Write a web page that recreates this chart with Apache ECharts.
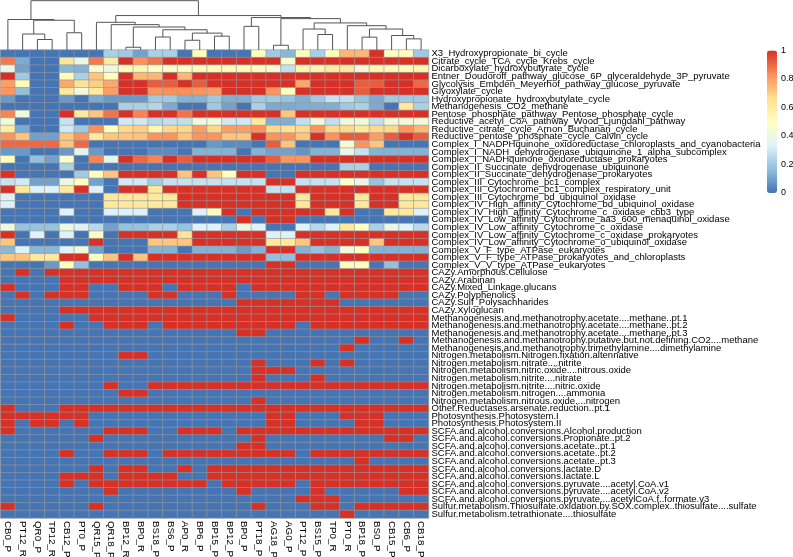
<!DOCTYPE html>
<html><head><meta charset="utf-8">
<style>html,body{margin:0;padding:0;background:#fff}#c{width:793px;height:557px}</style>
<script src="https://cdn.jsdelivr.net/npm/echarts@6/dist/echarts.min.js"></script>
</head><body><div id="c"></div>
<script>
const sampleLabels = ["CB0_P","PT12_R","QR0_P","TP12_R","CB12_P","PT0_P","QR15_P","QR18_P","BP12_R","BP0_R","BS18_P","BS6_P","AP0_R","BP6_P","BP15_P","BP12_P","BP0_P","PT18_P","AG18_P","AG0_P","PT12_P","BS15_P","TP0_R","PT0_R","BP18_P","BS0_P","CB15_P","CB6_P","CB18_P"];
const pathwayLabels = ["X3_Hydroxypropionate_bi_cycle","Citrate_cycle_TCA_cycle_Krebs_cycle","Dicarboxylate_hydroxybutyrate_cycle","Entner_Doudoroff_pathway_glucose_6P_glyceraldehyde_3P_pyruvate","Glycolysis_Embden_Meyerhof_pathway_glucose_pyruvate","Glyoxylate_cycle","Hydroxypropionate_hydroxybutylate_cycle","Methanogenesis_CO2_methane","Pentose_phosphate_pathway_Pentose_phosphate_cycle","Reductive_acetyl_CoA_pathway_Wood_Ljungdahl_pathway","Reductive_citrate_cycle_Arnon_Buchanan_cycle","Reductive_pentose_phosphate_cycle_Calvin_cycle","Complex_I_NADPHquinone_oxidoreductase_chloroplasts_and_cyanobacteria","Complex_I_NADH_dehydrogenase_ubiquinone_1_alpha_subcomplex","Complex_I_NADHquinone_oxidoreductase_prokaryotes","Complex_II_Succinate_dehydrogenase_ubiquinone","Complex_II_Succinate_dehydrogenase_prokaryotes","Complex_III_Cytochrome_bc1_complex","Complex_III_Cytochrome_bc1_complex_respiratory_unit","Complex_III_Cytochrome_bd_ubiquinol_oxidase","Complex_IV_High_affinity_Cytochrome_bd_ubiquinol_oxidase","Complex_IV_High_affinity_Cytochrome_c_oxidase_cbb3_type","Complex_IV_Low_affinity_Cytochrome_aa3_600_menaquinol_oxidase","Complex_IV_Low_affinity_Cytochrome_c_oxidase","Complex_IV_Low_affinity_Cytochrome_c_oxidase_prokaryotes","Complex_IV_Low_affinity_Cytochrome_o_ubiquinol_oxidase","Complex_V_F_type_ATPase_eukaryotes","Complex_V_F_type_ATPase_prokaryotes_and_chloroplasts","Complex_V_V_type_ATPase_eukaryotes","CAZy.Amorphous.Cellulose","CAZy.Arabinan","CAZy.Mixed_Linkage.glucans","CAZy.Polyphenolics","CAZy.Sulf_Polysachharides","CAZy.Xyloglucan","Methanogenesis.and.methanotrophy.acetate....methane..pt.1","Methanogenesis.and.methanotrophy.acetate....methane..pt.2","Methanogenesis.and.methanotrophy.acetate....methane..pt.3","Methanogenesis.and.methanotrophy.putative.but.not.defining.CO2....methane","Methanogenesis.and.methanotrophy.trimethylamine....dimethylamine","Nitrogen.metabolism.Nitrogen.fixation.altennative","Nitrogen.metabolism.nitrate....nitrite","Nitrogen.metabolism.nitric.oxide....nitrous.oxide","Nitrogen.metabolism.nitrite....nitrate","Nitrogen.metabolism.nitrite....nitric.oxide","Nitrogen.metabolism.nitrogen....ammonia","Nitrogen.metabolism.nitrous.oxide....nitrogen","Other.Reductases.arsenate.reduction..pt.1","Photosynthesis.Photosystem.I","Photosynthesis.Photosystem.II","SCFA.and.alcohol.conversions.Alcohol.production","SCFA.and.alcohol.conversions.Propionate..pt.2","SCFA.and.alcohol.conversions.acetate..pt.1","SCFA.and.alcohol.conversions.acetate..pt.2","SCFA.and.alcohol.conversions.acetate..pt.3","SCFA.and.alcohol.conversions.lactate.D","SCFA.and.alcohol.conversions.lactate.L","SCFA.and.alcohol.conversions.pyruvate....acetyl.CoA.v1","SCFA.and.alcohol.conversions.pyruvate....acetyl.CoA.v2","SCFA.and.alcohol.conversions.pyruvate....acetylCoA.f..formate.v3","Sulfur.metabolism.Thiosulfate.oxidation.by.SOX.complex..thiosulfate....sulfate","Sulfur.metabolism.tetrathionate....thiosulfate"];

// Graded rows (pathways 1-29): one value per sample
const gradedRows = [
[0,0,0,0,0,0,0,.22,.2,.1,.22,.22,0,.5,0,0,0,.5,.2,.15,.5,.22,.5,.75,.75,1,.5,.5,.2],
[.87,.12,0,0,.63,.4,.87,.6,1,.83,.88,1,1,1,1,1,1,1,1,.47,1,1,1,1,1,1,1,1,1],
[.38,.1,0,0,.15,.14,.47,.4,.52,.55,.5,.47,.48,.52,.52,.52,.52,.5,.45,.27,.55,.55,.6,.62,.42,.55,.52,.52,.55],
[1,.2,0,0,.52,.22,.72,.5,1,.75,.75,1,.75,1,1,1,1,1,1,1,1,1,1,1,1,1,1,1,1],
[.8,.52,0,0,.78,.65,.7,.78,1,1,.92,.92,1,.92,1,1,1,1,1,1,.78,1,1,1,.92,.92,1,1,.9],
[.82,.17,0,0,.62,.42,.62,.8,1,1,.82,.83,.83,.82,.8,1,1,1,.82,.5,1,1,1,1,.92,1,1,1,1],
[.08,0,0,0,.08,0,.12,.08,.08,.08,.2,.2,.14,.14,.2,.13,.13,.2,.2,.18,.13,.2,.28,.27,.18,.12,.2,.2,.2],
[0,0,0,0,0,0,0,0,.22,.22,.24,.12,0,0,.2,.1,0,.22,.12,.12,.13,.13,.13,.2,.22,.12,0,.62,.22],
[.85,.42,0,0,1,.62,.72,.88,1,.85,1,1,.88,1,1,1,1,1,1,.72,1,1,1,1,1,1,1,1,1],
[.42,0,0,0,.28,0,0,0,.3,.3,.25,.27,.27,.4,.42,.3,.3,.62,.13,.13,.27,.42,.27,.42,.42,.27,.42,.42,.42],
[.6,.12,0,0,.3,.2,.83,.5,.68,.7,.55,.68,.68,.8,.68,.8,.8,.83,.68,.65,.68,.82,.68,.68,.62,.68,.68,.82,.75],
[.82,.72,.1,.1,.72,.82,.62,.72,.72,.72,.82,.82,.72,.82,.82,.72,.72,1,.82,.82,.72,1,.82,.92,.92,.8,.92,1,.92],
[.9,.9,.9,.9,.72,.9,0,0,0,0,0,0,0,0,.08,.05,.05,0,.92,.72,0,0,0,.45,.82,.72,0,0,0],
[.08,.08,0,0,.08,.35,.08,0,0,0,.05,.05,0,.14,.14,.14,0,.14,.1,.1,.07,.14,.14,.38,.28,.14,.14,.14,.14],
[.5,0,.17,.1,.48,0,.85,.35,1,.9,.85,1,.92,1,1,1,1,1,.92,.82,.82,1,1,1,1,1,1,1,1],
[0,0,0,0,.22,0,0,0,0,0,0,0,0,0,0,0,0,0,0,0,0,0,0,.22,.22,0,0,0,0],
[1,0,0,0,0,.2,.5,.72,1,1,1,1,.72,1,.72,.5,1,1,0,0,1,1,1,1,1,1,1,1,1],
[.28,.3,.1,.1,.4,.5,.1,0,.3,.3,.2,.28,.28,.28,.28,.28,.28,.28,1,1,.28,.28,.28,.48,.38,.18,.28,.28,.28],
[1,.62,.33,.33,.62,1,.33,0,1,1,.62,1,1,1,1,1,1,1,.28,.28,1,1,1,1,1,1,1,1,1],
[.33,0,0,0,0,0,0,.62,.62,.62,.62,.62,1,1,1,1,1,1,1,1,.62,1,1,1,.62,1,1,.62,.62],
[.33,0,0,0,0,0,0,.62,.62,.62,.62,.62,1,1,1,1,1,1,1,1,.62,1,1,1,.62,1,1,.62,.62],
[0,0,0,0,.33,0,0,.33,.33,.33,0,0,0,.33,.5,1,0,1,1,1,1,1,.62,1,0,0,.62,.62,.33],
[0,0,0,0,0,0,0,0,0,0,0,0,0,0,0,0,1,0,1,1,0,0,0,0,0,0,0,0,0],
[.42,.18,.18,.18,.4,.33,.25,.1,.18,.18,.22,.22,.18,.33,.33,.22,.4,.33,0,0,.33,.25,.33,.62,.5,.22,.38,.33,.25],
[1,0,.33,0,.33,0,.5,0,1,1,1,1,.65,1,1,1,1,1,.33,.33,1,1,1,1,1,1,1,1,1],
[.72,0,0,0,0,0,1,0,0,0,.72,.72,.72,1,1,1,1,1,.62,.62,.72,1,1,1,1,.72,1,1,1],
[.15,.33,.15,.15,.33,.42,.1,0,0,0,.14,.14,0,.14,.14,.14,.08,.14,1,1,.14,.18,.14,.42,.5,.14,.14,.14,.14],
[.72,.72,.62,.62,1,1,.5,.72,1,.72,1,1,1,1,1,1,1,1,.17,.17,1,1,1,1,1,1,1,1,1],
[0,0,0,.08,.5,.17,0,0,0,0,0,0,0,0,0,0,0,0,1,1,0,0,0,.5,.5,0,.17,0,0]
];

// Present/absent rows (pathways 30-62): 1-based positions of the red cells; [a,b] is a run
const presentCells = [
[2,[4,29]],
[[5,29]],
[1,5,6,9,10,11,[13,16],[18,29]],
[2,4,5,6,11,12,16,21,22,[24,27]],
[[17,23]],
[[5,29]],
[1,[7,29]],
[5,8,9,10,[12,20],[22,29]],
[17,18],
[25,28],
[24],
[9,10],
[18,22,24],
[18,19,20],
[18,22],
[8,[11,29]],
[9,10],
[18],
[1,[5,29]],
[[1,6],19,20,24,25,26],
[1,3,4,6,19,20,25,26],
[1,8,9,10,13,14,15,[17,29]],
[7,18,27,28],
[17,18],
[5,8,9,10,[12,20],[22,29]],
[25],
[7,9,10,13,[15,29]],
[5,6,7,9,10,11,12,[15,29]],
[5,[7,14],[16,20],[22,29]],
[8,17,22,28,29],
[21,22,23],
[1,7,18,22,23,[25,29]],
[24]
];

// Column dendrogram in hclust form: negative = leaf position, positive = earlier merge number, then height
const merges = [
[-3,-4,.21],[-2,1,.32],[-5,-6,.345],[2,3,.595],[-1,4,.61],
[-9,-10,.055],[-11,-12,.26],[-13,-14,.195],[-15,-16,.277],[8,9,.338],[7,10,.405],[6,11,.46],[-8,12,.507],[-7,13,.554],
[-17,-18,.473],[-19,-20,.095],[-22,-23,.31],[-21,17,.419],[-25,-26,.257],[-28,-29,.223],[-27,20,.29],[19,21,.419],[-24,22,.486],[18,23,.541],[16,24,.628],[15,25,.649],[14,26,.689],[5,27,.986]
];

const rampColors = ['#4575B4','#91BFDB','#E0F3F8','#FFFFBF','#FEE090','#FC8D59','#D73027'];
const FONT = '"Liberation Sans", Arial, sans-serif';

const cells = [];
gradedRows.forEach((row, r) => row.forEach((v, c) => cells.push([c, r, v])));
presentCells.forEach((list, i) => {
  const on = new Set();
  list.forEach(e => { if (Array.isArray(e)) { for (let k = e[0]; k <= e[1]; k++) on.add(k); } else on.add(e); });
  sampleLabels.forEach((_, c) => cells.push([c, gradedRows.length + i, on.has(c + 1) ? 1 : 0]));
});

const nodes = [];
const pos = id => id < 0 ? { x: -id - .5, h: 0 } : nodes[id - 1];
const treeData = merges.map(([a, b, h]) => {
  const A = pos(a), B = pos(b);
  nodes.push({ x: (A.x + B.x) / 2, h });
  return [A.x, A.h, B.x, B.h, h];
});

const chart = echarts.init(document.getElementById('c'), null, { renderer: 'canvas' });
chart.setOption({
  animation: false,
  backgroundColor: '#fff',
  grid: [
    { left: 0.5, top: 50, width: 428, height: 468, outerBoundsMode: 'none' },
    { left: 0.5, top: 0, width: 428, height: 50, outerBoundsMode: 'none' },
    { left: 767, top: 50.5, width: 10, height: 142.5, outerBoundsMode: 'none' }
  ],
  xAxis: [
    { type: 'category', gridIndex: 0, data: sampleLabels, position: 'bottom',
      axisLine: { show: false }, axisTick: { show: false }, splitLine: { show: false },
      axisLabel: { interval: 0, rotate: -90, fontFamily: FONT, fontSize: 9.8, color: '#000', margin: 3 } },
    { type: 'value', gridIndex: 1, min: 0, max: 29, show: false },
    { type: 'value', gridIndex: 2, min: 0, max: 1, show: false }
  ],
  yAxis: [
    { type: 'category', gridIndex: 0, data: pathwayLabels, inverse: true, position: 'right',
      axisLine: { show: false }, axisTick: { show: false }, splitLine: { show: false },
      axisLabel: { interval: 0, fontFamily: FONT, fontSize: 9.5, color: '#000', margin: 3 } },
    { type: 'value', gridIndex: 1, min: 0, max: 1, show: false },
    { type: 'value', gridIndex: 2, min: 0, max: 1, interval: .2, position: 'right',
      axisLine: { show: false }, axisTick: { show: false }, splitLine: { show: false },
      axisLabel: { fontFamily: FONT, fontSize: 9, color: '#000', margin: 4, formatter: v => String(+v.toFixed(1)) } }
  ],
  visualMap: {
    type: 'continuous', seriesIndex: 0, min: 0, max: 1, calculable: false,
    orient: 'vertical', left: 767, top: 50.5, itemWidth: 10, itemHeight: 142.5, padding: 0,
    inRange: { color: rampColors }, textStyle: { color: 'transparent', fontSize: 1 }, text: ['', ''], showLabel: false
  },
  series: [
    { type: 'heatmap', xAxisIndex: 0, yAxisIndex: 0, data: cells, progressive: 0,
      itemStyle: { borderColor: '#999', borderWidth: 0.6 }, emphasis: { disabled: true } },
    { type: 'custom', xAxisIndex: 1, yAxisIndex: 1, data: treeData, silent: true, clip: false,
      encode: { x: [0, 2], y: [1, 3, 4] },
      renderItem: (p, api) => {
        const xa = api.value(0), ha = api.value(1), xb = api.value(2), hb = api.value(3), h = api.value(4);
        const pts = [[xa, ha], [xa, h], [xb, h], [xb, hb]].map(q => api.coord(q));
        return { type: 'polyline', shape: { points: pts }, style: { stroke: '#555', lineWidth: 1, fill: null } };
      } }
  ]
});
</script></body></html>
